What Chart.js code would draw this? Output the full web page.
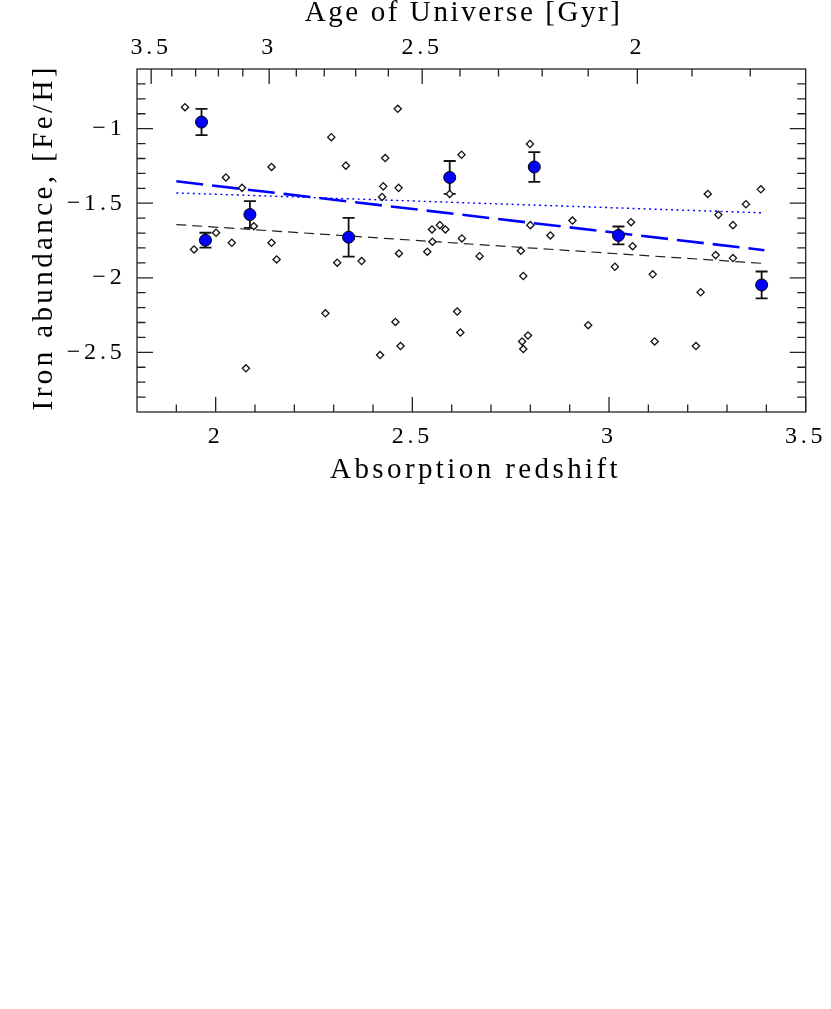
<!DOCTYPE html>
<html>
<head>
<meta charset="utf-8">
<script src="https://cdn.jsdelivr.net/npm/chart.js@4.4.0/dist/chart.umd.min.js"></script>
<style>
  html, body { margin: 0; padding: 0; background: #fff; }
  #wrap { position: relative; width: 831px; height: 500px; }
</style>
</head>
<body>
<div id="wrap"><canvas id="chart"></canvas></div>
<script>
// individual absorbers (redshift, [Fe/H])
const absZ = [1.922, 1.945, 2.001, 2.026, 2.041, 2.067, 2.097, 2.142, 2.142, 2.155,
              2.294, 2.309, 2.331, 2.371, 2.423, 2.426, 2.431, 2.463, 2.465, 2.466,
              2.538, 2.550, 2.551, 2.570, 2.584, 2.595, 2.625, 2.626, 2.799, 2.800,
              2.851, 2.907, 2.671, 2.776, 2.782, 3.015, 3.056, 3.060, 3.111, 3.251,
              3.278, 3.315, 3.348, 3.386, 3.271, 3.315, 2.077, 2.279, 2.418, 2.457,
              2.470, 2.614, 2.622, 3.233, 2.947, 2.779, 2.794, 2.782, 3.116, 3.221];
const absFe = [-0.856, -1.810, -1.698, -1.327, -1.765, -1.397, -1.654, -1.257, -1.765, -1.877,
               -1.057, -1.899, -1.248, -1.888, -1.458, -1.387, -1.197, -0.867, -1.397, -1.837,
               -1.825, -1.676, -1.758, -1.647, -1.676, -1.438, -1.175, -1.736, -1.103, -1.647,
               -1.716, -1.616, -1.855, -1.819, -1.988, -1.926, -1.627, -1.788, -1.977, -1.438,
               -1.578, -1.647, -1.507, -1.407, -1.848, -1.868, -2.607, -2.238, -2.518, -2.296,
               -2.458, -2.226, -2.367, -2.097, -2.318, -2.427, -2.387, -2.478, -2.427, -2.458];

// binned means with errors
const binZ = [1.964, 1.974, 2.087, 2.338, 2.595, 2.810, 3.024, 3.388];
const binFe = [-0.956, -1.748, -1.576, -1.728, -1.327, -1.257, -1.716, -2.048];
const binErr = [0.088, 0.05, 0.09, 0.13, 0.11, 0.10, 0.06, 0.09];

// fitted trends
const fitZ = [1.90, 3.395];
const fitBlueDash = [-1.353, -1.815];
const fitBlueDot = [-1.431, -1.565];
const fitBlackDash = [-1.643, -1.904];

// axis ticks
const zMajor = [2, 2.5, 3, 3.5];
const zMinor = [1.9, 2.1, 2.2, 2.3, 2.4, 2.6, 2.7, 2.8, 2.9, 3.1, 3.2, 3.3, 3.4];
const feMajor = [-2.5, -2, -1.5, -1];
const feMinor = [-2.8, -2.7, -2.6, -2.4, -2.3, -2.2, -2.1, -1.9, -1.8, -1.7, -1.6,
                 -1.4, -1.3, -1.2, -1.1, -0.9, -0.8, -0.7];
const ageLabels = ['3.5', '3', '2.5', '2'];
const ageMajorZ = [1.836, 2.136, 2.525, 3.072];
const ageMinorZ = [1.8885, 1.949, 2.007, 2.069, 2.205, 2.276, 2.356, 2.439,
                   2.621, 2.719, 2.830, 2.947, 3.211, 3.359];

const FONT = '"Liberation Serif", "Times New Roman", serif';
const TICK_SPACING = '3.8px';

const toPts = (xs, ys) => xs.map((x, i) => ({ x: x, y: ys[i] }));
const minus = v => String(v).replace('-', '\u2212');

function drawTitle(ctx, text, x, y, spacing, rotate) {
    ctx.save();
    ctx.letterSpacing = spacing + 'px';
    ctx.translate(x, y);
    if (rotate) ctx.rotate(-Math.PI / 2);
    ctx.fillText(text, spacing / 2, 0);
    ctx.restore();
}

const framePlugin = {
    id: 'frame',
    beforeDraw(chart) {
        chart.ctx.letterSpacing = TICK_SPACING;
    },
    beforeDatasetsDraw(chart) {
        const { ctx, scales: { x, y } } = chart;
        ctx.save();
        ctx.strokeStyle = '#111';
        ctx.lineWidth = 1.8;
        binZ.forEach((z, i) => {
            const px = x.getPixelForValue(z);
            const top = y.getPixelForValue(binFe[i] + binErr[i]);
            const bot = y.getPixelForValue(binFe[i] - binErr[i]);
            ctx.beginPath();
            ctx.moveTo(px, top); ctx.lineTo(px, bot);
            ctx.moveTo(px - 6, top); ctx.lineTo(px + 6, top);
            ctx.moveTo(px - 6, bot); ctx.lineTo(px + 6, bot);
            ctx.stroke();
        });
        ctx.restore();
    },
    afterDraw(chart) {
        const { ctx, chartArea: a, scales: { x, y } } = chart;
        ctx.save();
        ctx.strokeStyle = '#222';
        ctx.lineWidth = 1.3;
        ctx.strokeRect(a.left, a.top, a.right - a.left, a.bottom - a.top);

        ctx.beginPath();
        const xTick = (z, len, fromTop) => {
            const px = x.getPixelForValue(z);
            if (fromTop) { ctx.moveTo(px, a.top); ctx.lineTo(px, a.top + len); }
            else { ctx.moveTo(px, a.bottom); ctx.lineTo(px, a.bottom - len); }
        };
        const yTick = (v, len) => {
            const py = y.getPixelForValue(v);
            ctx.moveTo(a.left, py); ctx.lineTo(a.left + len, py);
            ctx.moveTo(a.right, py); ctx.lineTo(a.right - len, py);
        };
        zMajor.forEach(z => xTick(z, 15, false));
        zMinor.forEach(z => xTick(z, 7.5, false));
        ageMajorZ.forEach(z => xTick(z, 15, true));
        ageMinorZ.forEach(z => xTick(z, 7.5, true));
        feMajor.forEach(v => yTick(v, 16));
        feMinor.forEach(v => yTick(v, 8.5));
        ctx.stroke();

        // axis titles
        const cx = (a.left + a.right) / 2;
        ctx.font = '29px ' + FONT;
        ctx.fillStyle = '#000';
        ctx.textAlign = 'center';
        ctx.textBaseline = 'alphabetic';
        drawTitle(ctx, 'Absorption redshift', cx + 2.5, a.bottom + 66, 3.4, false);
        drawTitle(ctx, 'Age of Universe [Gyr]', cx - 9, a.top - 48, 2.6, false);
        drawTitle(ctx, 'Iron abundance, [Fe/H]', 51.5, (a.top + a.bottom) / 2 - 1.5, 3.4, true);
        ctx.restore();
        ctx.letterSpacing = '0px';
    }
};

const tickFont = { family: FONT, size: 24, lineHeight: 1.2 };

new Chart(document.getElementById('chart'), {
    data: {
        datasets: [
            {
                type: 'scatter',
                data: toPts(binZ, binFe),
                pointStyle: 'circle',
                pointRadius: 6,
                pointBackgroundColor: '#0000ff',
                pointBorderColor: '#000',
                pointBorderWidth: 1
            },
            {
                type: 'scatter',
                data: toPts(absZ, absFe),
                pointStyle: 'rectRot',
                pointRadius: 3.6,
                pointBackgroundColor: '#fff',
                pointBorderColor: '#111',
                pointBorderWidth: 1.3
            },
            {
                type: 'line',
                data: toPts(fitZ, fitBlueDash),
                borderColor: '#0000ff',
                borderWidth: 2.6,
                borderDash: [27, 9],
                pointRadius: 0,
                fill: false
            },
            {
                type: 'line',
                data: toPts(fitZ, fitBlueDot),
                borderColor: '#0000ff',
                borderWidth: 1.4,
                borderDash: [2, 3.5],
                pointRadius: 0,
                fill: false
            },
            {
                type: 'line',
                data: toPts(fitZ, fitBlackDash),
                borderColor: '#222',
                borderWidth: 1.2,
                borderDash: [10, 6],
                pointRadius: 0,
                fill: false
            }
        ]
    },
    options: {
        responsive: true,
        maintainAspectRatio: false,
        animation: false,
        layout: { padding: { left: 0, top: 0, right: 18, bottom: 0 } },
        plugins: {
            legend: { display: false },
            tooltip: { enabled: false }
        },
        scales: {
            x: {
                type: 'linear',
                position: 'bottom',
                min: 1.8,
                max: 3.5,
                grid: { display: false, drawTicks: false },
                border: { display: false },
                afterBuildTicks: s => { s.ticks = zMajor.map(v => ({ value: v })); },
                afterFit: s => { s.height = 88; },
                ticks: {
                    font: tickFont,
                    color: '#000',
                    padding: 10.3,
                    maxRotation: 0,
                    autoSkip: false,
                    callback: v => String(v)
                }
            },
            x2: {
                type: 'linear',
                position: 'top',
                min: 1.8,
                max: 3.5,
                grid: { display: false, drawTicks: false },
                border: { display: false },
                afterBuildTicks: s => { s.ticks = ageMajorZ.map(v => ({ value: v })); },
                afterFit: s => { s.height = 69; },
                ticks: {
                    font: tickFont,
                    color: '#000',
                    padding: 7.1,
                    maxRotation: 0,
                    autoSkip: false,
                    callback: (v, i) => ageLabels[i]
                }
            },
            y: {
                type: 'linear',
                position: 'left',
                min: -2.9,
                max: -0.6,
                grid: { display: false, drawTicks: false },
                border: { display: false },
                afterBuildTicks: s => { s.ticks = feMajor.map(v => ({ value: v })); },
                afterFit: s => { s.width = 137; },
                ticks: {
                    font: tickFont,
                    color: '#000',
                    padding: 11.5,
                    autoSkip: false,
                    callback: v => minus(v)
                }
            }
        }
    },
    plugins: [framePlugin]
});
</script>
</body>
</html>
